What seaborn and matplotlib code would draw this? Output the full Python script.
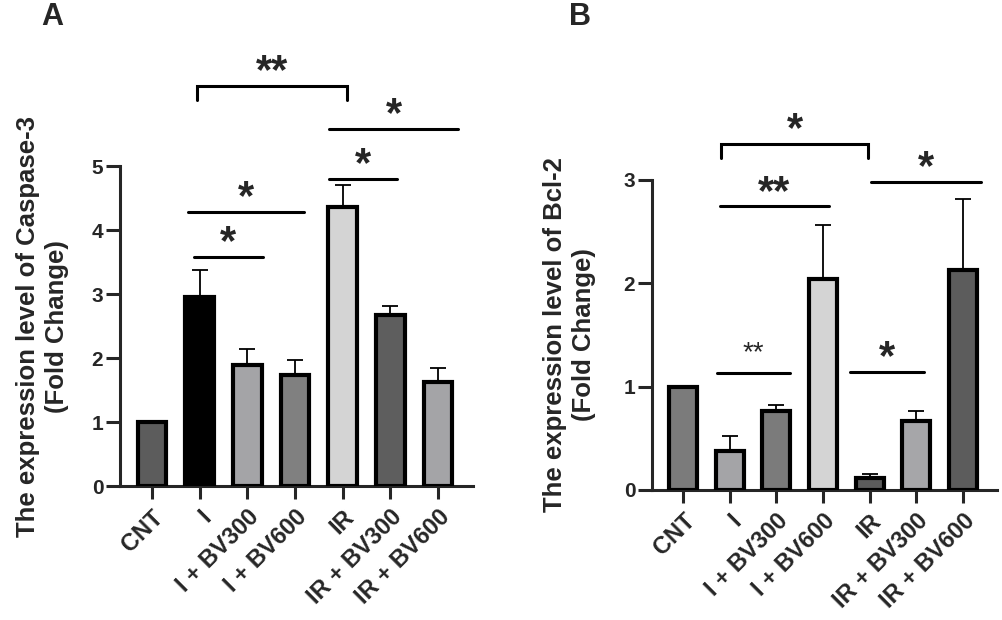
import matplotlib
matplotlib.use('Agg')
import pandas as pd
import matplotlib.pyplot as plt
import seaborn as sns

# Datos
groups = ['CNT', 'I', 'I + BV300', 'I + BV600', 'IR', 'IR + BV300', 'IR + BV600']

casp_mean = [1.0, 2.96, 1.89, 1.73, 4.36, 2.68, 1.62]
casp_err = [0.0, 0.42, 0.25, 0.24, 0.35, 0.14, 0.23]
casp_colors = ['#5c5c5c', '#000000', '#a3a3a8', '#808080', '#d4d4d4', '#5e5e5e', '#a3a3a8']

bcl_mean = [1.0, 0.38, 0.76, 2.04, 0.12, 0.67, 2.13]
bcl_err = [0.0, 0.14, 0.06, 0.52, 0.03, 0.09, 0.68]
bcl_colors = ['#7b7b7b', '#a3a3a8', '#7b7b7b', '#d4d4d4', '#5c5c5c', '#a5a5a9', '#5c5c5c']

# anotaciones de significancia: (x inicio, x fin, y, texto, corchete)
casp_sig = [(0.94, 4.09, 6.25, '**', True),
            (3.71, 6.42, 5.58, '*', False),
            (3.71, 5.14, 4.80, '*', False),
            (0.76, 3.19, 4.28, '*', False),
            (0.88, 2.33, 3.58, '*', False)]
bcl_sig = [(0.81, 3.97, 3.34, '*', True),
           (4.02, 6.39, 2.98, '*', False),
           (0.79, 3.12, 2.74, '**', False),
           (0.73, 2.29, 1.13, '**', False),
           (3.57, 5.17, 1.14, '*', False)]

sns.set_style('ticks')
plt.rcParams['font.family'] = ['Liberation Sans', 'DejaVu Sans']
plt.rcParams['font.weight'] = 'bold'

fig = plt.figure(figsize=(10.03, 6.2), dpi=100)
ax_a = fig.add_axes([0.1196, 0.216, 0.352, 0.7226])
ax_b = fig.add_axes([0.650, 0.2097, 0.344, 0.7177])


def draw_panel(ax, mean, err, colors, sig, ylim, ytop, ylabel, label_x, small=None):
    df = pd.DataFrame({'grupo': groups, 'valor': mean})
    sns.barplot(data=df, x='grupo', y='valor', hue='grupo', palette=colors,
                legend=False, width=0.6, edgecolor='black', linewidth=3,
                errorbar=None, ax=ax, zorder=3)
    ax.errorbar(range(len(groups)), mean, yerr=[[0] * len(err), err], fmt='none',
                ecolor='black', elinewidth=1.3, capsize=6, capthick=1.3, zorder=2)
    ax.set_xlim(-0.67, 6.73)
    ax.set_ylim(0, ylim)
    ax.set_yticks(range(0, ytop + 1))
    ax.spines['left'].set_bounds(0, ytop)
    for s in ['top', 'right']:
        ax.spines[s].set_visible(False)
    for s in ['left', 'bottom']:
        ax.spines[s].set_linewidth(2.2)
    ax.tick_params(axis='y', width=2.2, length=10, labelsize=15, pad=2)
    ax.tick_params(axis='x', width=2.2, length=9, labelsize=17, pad=5)
    ax.set_xticks(range(len(groups)))
    ax.set_xticklabels(groups, rotation=45, ha='right', rotation_mode='anchor',
                       fontweight='bold')
    for lab in ax.get_yticklabels():
        lab.set_fontweight('bold')
    ax.set_xlabel('')
    ax.set_ylabel(ylabel, fontsize=18.5, fontweight='bold', linespacing=1.25)
    # etiqueta centrada sobre el eje visible (0..ytop)
    ax.yaxis.set_label_coords(label_x, ytop / 2 / ylim)
    for i, (x1, x2, y, txt, bracket) in enumerate(sig):
        if bracket:
            ax.plot([x1, x1, x2, x2], [y - 0.22 * ylim / 7, y, y, y - 0.22 * ylim / 7],
                    color='black', lw=2.2, clip_on=False, solid_joinstyle='miter')
        else:
            ax.plot([x1, x2], [y, y], color='black', lw=2.2, clip_on=False)
        if small is not None and i == small:
            ax.annotate(txt, xy=((x1 + x2) / 2, y), xytext=(0, 9),
                        textcoords='offset points', ha='center', va='baseline',
                        fontsize=20, fontweight='normal', annotation_clip=False)
        else:
            ax.annotate(txt, xy=((x1 + x2) / 2, y), xytext=(0, 2),
                        textcoords='offset points', ha='center', va='baseline',
                        fontsize=30, fontweight='bold', annotation_clip=False)


draw_panel(ax_a, casp_mean, casp_err, casp_colors, casp_sig, 7, 5,
           'The expression level of Caspase-3\n(Fold Change)', -0.145)
draw_panel(ax_b, bcl_mean, bcl_err, bcl_colors, bcl_sig, 4.3, 3,
           'The expression level of Bcl-2\n(Fold Change)', -0.163, small=3)

fig.text(0.052, 0.973, 'A', fontsize=22, fontweight='bold', ha='center', va='center')
fig.text(0.578, 0.973, 'B', fontsize=22, fontweight='bold', ha='center', va='center')

fig.savefig('out.png', dpi=100)
